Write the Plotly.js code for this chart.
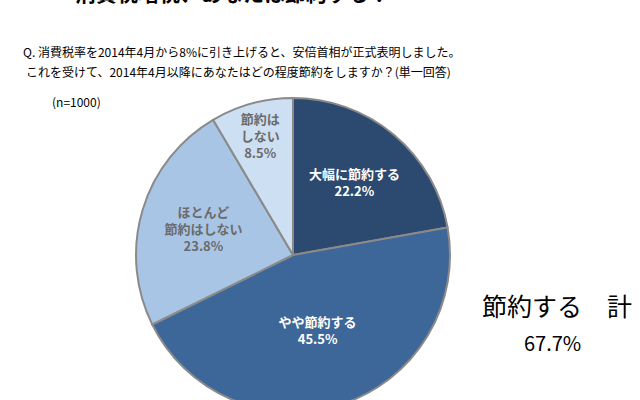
<!DOCTYPE html>
<html>
<head>
<meta charset="utf-8">
<script src="https://cdn.plot.ly/plotly-3.0.1.min.js"></script>
<style>
  html, body { margin: 0; padding: 0; overflow: hidden; background: #fff; }
</style>
</head>
<body>
<div id="graphDiv"></div>
<script>
// answers (single choice, n=1000)
var answers = ['大幅に節約する', 'やや節約する', 'ほとんど節約はしない', '節約はしない'];
var answerText = ['大幅に節約する', 'やや節約する', 'ほとんど<br>節約はしない', '節約は<br>しない'];
var shares = [22.2, 45.5, 23.8, 8.5];
var sliceColors = ['#2c4a6f', '#3d6699', '#a9c5e6', '#cddff2'];
var textColors = ['#ffffff', '#ffffff', '#6b6b6b', '#6b6b6b'];
var totalLabel = '節約する　計';
var totalValue = '67.7%';

var H = 430, W = 640;
function py(p) { return 1 - p / H; }
function px(p) { return p / W; }

function initGraph()
{
  var cx = 293, cy = 255, r = 157;

  var trace1 = {
    type: 'pie',
    labels: answers,
    values: shares,
    text: answerText,
    sort: false,
    direction: 'clockwise',
    rotation: 0,
    textinfo: 'text',
    texttemplate: '<b>%{text}<br>%{value:.1f}%</b>',
    textposition: 'inside',
    insidetextorientation: 'horizontal',
    hoverinfo: 'label+value',
    marker: {
      colors: sliceColors,
      line: {color: '#8a8a8a', width: 2}
    },
    insidetextfont: {family: 'Noto Sans CJK JP', size: 13, color: textColors},
    domain: {
      x: [px(cx - r), px(cx + r)],
      y: [py(cy + r), py(cy - r)]
    },
    showlegend: false
  };

  var data = [trace1];

  var font = 'Noto Sans CJK JP';
  var layout = {
    width: W,
    height: H,
    margin: {l: 0, r: 0, t: 0, b: 0},
    paper_bgcolor: '#ffffff',
    font: {family: font, color: '#000'},
    showlegend: false,
    annotations: [
      {text: '<b>消費税増税、あなたは節約する？</b>', xref: 'paper', yref: 'paper',
       x: px(232), y: py(-8), xanchor: 'center', yanchor: 'middle', showarrow: false,
       font: {size: 21, color: '#000'}},
      {text: 'Q. 消費税率を2014年4月から8%に引き上げると、安倍首相が正式表明しました。', xref: 'paper', yref: 'paper',
       x: px(21), y: py(52), xanchor: 'left', yanchor: 'middle', showarrow: false,
       font: {size: 12}},
      {text: 'これを受けて、2014年4月以降にあなたはどの程度節約をしますか？(単一回答)', xref: 'paper', yref: 'paper',
       x: px(24), y: py(72), xanchor: 'left', yanchor: 'middle', showarrow: false,
       font: {size: 12}},
      {text: '(n=1000)', xref: 'paper', yref: 'paper',
       x: px(50), y: py(101), xanchor: 'left', yanchor: 'middle', showarrow: false,
       font: {size: 12}},
      {text: totalLabel, xref: 'paper', yref: 'paper',
       x: px(557), y: py(305), xanchor: 'center', yanchor: 'middle', showarrow: false,
       font: {size: 25}},
      {text: totalValue, xref: 'paper', yref: 'paper',
       x: px(552), y: py(342), xanchor: 'center', yanchor: 'middle', showarrow: false,
       font: {size: 20}}
    ]
  };

  Plotly.newPlot('graphDiv', data, layout, {staticPlot: true});
}
initGraph();
</script>
</body>
</html>
